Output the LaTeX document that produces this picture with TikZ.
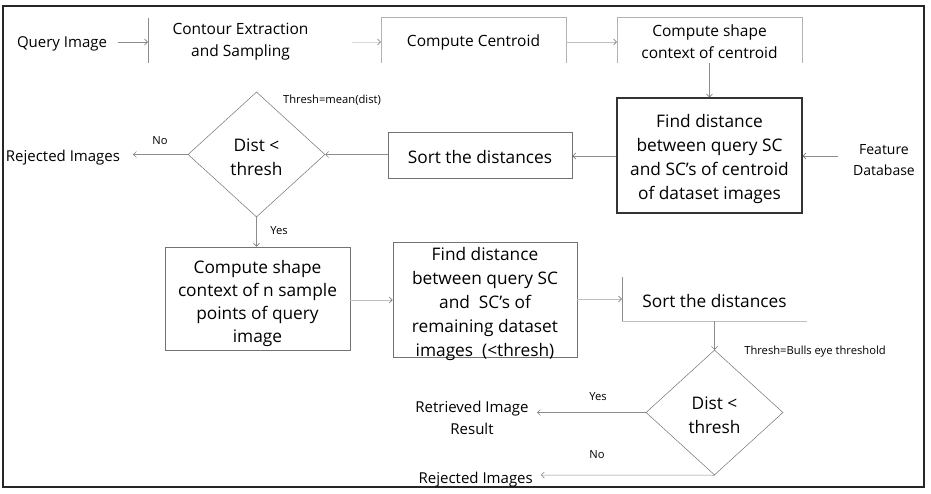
\documentclass[tikz,border=0pt]{standalone}
\usepackage{fontspec}
\setmainfont{Open Sans}
\usetikzlibrary{shapes.geometric,arrows.meta}
\begin{document}
\begin{tikzpicture}[x=1pt,y=-1pt,
  big/.style={font=\fontsize{17.3}{24}\selectfont},
  med/.style={font=\fontsize{15.5}{22}\selectfont},
  small/.style={font=\fontsize{11.2}{13}\selectfont},
  boxA/.style={draw=black!55,line width=0.7pt,inner sep=0pt},
  boxB/.style={draw=black!80,line width=1.2pt,inner sep=0pt},
  ghost/.style={inner sep=0pt,align=center},
  dia/.style={diamond,draw=black!55,line width=0.5pt,inner sep=0pt,minimum width=137pt,minimum height=125pt},
  arr/.style={draw=black!45,line width=0.5pt,-{Straight Barb[length=3pt,width=6pt,color=black!60]}},
  faint/.style={draw=black!15,line width=0.5pt,-{Straight Barb[length=3pt,width=6pt,color=black!55]}},
  edge/.style={draw=black!45,line width=0.6pt}
]
\useasboundingbox (0,0) rectangle (931,494);
\draw[black!85,line width=1.5pt] (3,6) rectangle (924,487);

% top row
\node[font=\fontsize{15}{22}\selectfont,ghost] (query) at (62,44) {Query Image};
\node[ghost,minimum width=185pt,minimum height=45pt] (contour) at (240.5,40.5) {};
\node[med,ghost] (contourt) at ([yshift=-1.5pt]contour.center) {Contour Extraction\\and Sampling};
\node[ghost,minimum width=185pt,minimum height=45pt] (centroid) at (473.5,40.5) {};
\node[med,ghost] (centroidt) at ([yshift=-2pt]centroid.center) {Compute Centroid};
\node[ghost,minimum width=185pt,minimum height=45pt] (scc) at (709.5,40.5) {};
\node[med,ghost] (scct) at ([yshift=-1.5pt]scc.center) {Compute shape\\context of centroid};
\draw[edge] (contour.north west) -- (contour.south west);
\draw[edge,black!30] (centroid.south west) -- (centroid.north west) -- (centroid.north east) -- (centroid.south east);
\draw[edge,black!30] (scc.south west) -- (scc.north west) -- (scc.north east) -- (scc.south east);

% second row
\node[boxB,minimum width=185pt,minimum height=115pt] (fd1) at (709.5,155.5) {};
\node[big,ghost] (fd1t) at ([yshift=-3.5pt]fd1.center) {Find distance\\between query SC\\and SC’s of centroid\\of dataset images};
\node[ghost,font=\fontsize{14}{21}\selectfont] (fdb) at (884,160) {Feature\\Database};
\node[boxA,minimum width=184pt,minimum height=46pt] (sort1) at (480,155) {};
\node[big,ghost] (sort1t) at ([yshift=-2.5pt]sort1.center) {Sort the distances};
\node[dia] (d1) at (256.5,154.5) {};
\node[big,ghost] (d1t) at ([yshift=-3pt]d1.center) {Dist <\\thresh};
\node[med,ghost,font=\fontsize{15}{22}\selectfont] (rej1) at (63,158) {Rejected Images};
\node[small,ghost] (t1) at (332,100) {Thresh=mean(dist)};

% third row
\node[boxA,minimum width=185pt,minimum height=103pt] (cs) at (257.5,298.5) {};
\node[ghost,font=\fontsize{17.3}{23}\selectfont] (cst) at ([yshift=-5pt]cs.center) {Compute shape\\context of n sample\\points of query\\image};
\node[boxA,minimum width=184pt,minimum height=115pt] (fd2) at (485,299.5) {};
\node[big,ghost] (fd2t) at ([yshift=-4.5pt]fd2.center) {Find distance\\between query SC\\and\ \ SC’s of\\remaining dataset\\images\ \ (<thresh)};
\node[ghost,minimum width=185pt,minimum height=44pt] (sort2) at (714.5,299) {};
\node[big,ghost] (sort2t) at ([yshift=-2.5pt]sort2.center) {Sort the distances};
\draw[edge] (sort2.north west) -- (sort2.south west);
\draw[edge,black!25] (sort2.south west) -- (sort2.south east);

% bottom
\node[dia] (d2) at (714.5,412.5) {};
\node[big,ghost] (d2t) at ([yshift=-3pt]d2.center) {Dist <\\thresh};
\node[small,ghost] (t2) at (815,352) {Thresh=Bulls eye threshold};
\node[ghost,font=\fontsize{15}{22}\selectfont] (ret) at (472,418) {Retrieved Image\\Result};
\node[ghost,font=\fontsize{15}{22}\selectfont,anchor=east] (rej2) at (533,480) {Rejected Images};

% connectors
\coordinate (qa) at (118,42);
\draw[arr] (qa) -- (contour.west |- qa);
\coordinate (ca) at (352,42);
\draw[faint] (ca) -- (centroid.west |- ca);
\draw[arr,draw=black!25] (centroid.east |- qa) -- (scc.west |- qa);
\draw[arr] (scc.south) -- (fd1.north);
\coordinate (fdbw) at (838,156);
\draw[arr] (fdbw) -- (fd1.east |- fdbw);
\draw[arr] (fd1.west |- fdbw) -- (sort1.east |- fdbw);
\draw[arr] (sort1.west |- d1.east) -- (d1.east);
\coordinate (r1) at (133,154.5);
\draw[arr] (d1.west) -- (r1);
\node[small,ghost] (no1) at (160,141) {No};
\draw[arr] (d1.south) -- (cs.north -| d1.south);
\node[small,ghost] (yes1) at (279,231) {Yes};
\coordinate (cc) at (0,300);
\draw[arr,draw=black!25] (cs.east |- cc) -- (fd2.west |- cc);
\coordinate (cd) at (0,299);
\draw[arr,draw=black!25] (fd2.east |- cd) -- (sort2.west |- cd);
\draw[arr] (sort2.south -| d2.north) -- (d2.north);
\coordinate (re) at (537,412.5);
\draw[arr] (d2.west) -- (re);
\node[small,ghost] (yes2) at (598,397) {Yes};
\coordinate (rj) at (541,475);
\draw[arr] (d2.south) -- (rj);
\node[small,ghost] (no2) at (597,455) {No};
\end{tikzpicture}
\end{document}
